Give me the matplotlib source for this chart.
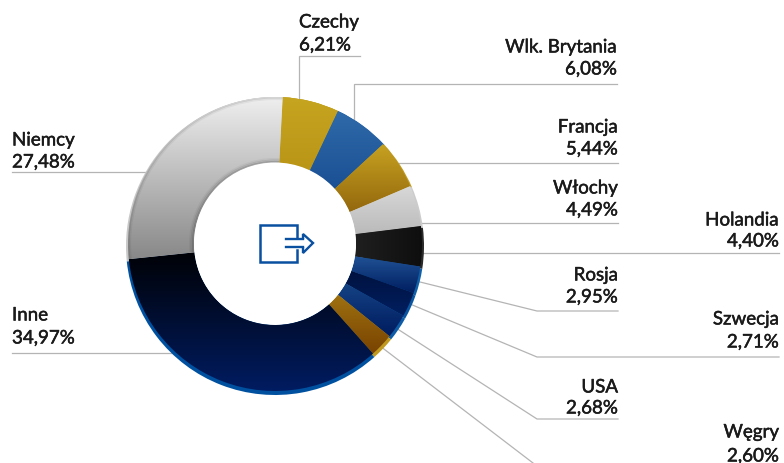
import matplotlib
matplotlib.use("Agg")
import matplotlib.pyplot as plt
import numpy as np
from matplotlib.colors import LinearSegmentedColormap
from matplotlib.patches import Polygon, Circle
import matplotlib.patheffects as pe

countries = ["Czechy", "Wlk. Brytania", "Francja", "Włochy", "Holandia", "Rosja",
             "Szwecja", "USA", "Węgry", "Inne", "Niemcy"]
shares = [6.21, 6.08, 5.44, 4.49, 4.40, 2.95, 2.71, 2.68, 2.60, 34.97, 27.48]
share_labels = ["6,21%", "6,08%", "5,44%", "4,49%", "4,40%", "2,95%",
                "2,71%", "2,68%", "2,60%", "34,97%", "27,48%"]

# gradient ends per slice, top then bottom (horizontal for Holandia)
grad_start = ["#c6a520", "#2f6aaa", "#c6a220", "#d8d8d8", "#333333", "#2a63a6",
              "#000a2c", "#24609f", "#c09a20", "#000000", "#f0f0f0"]
grad_end = ["#ae850e", "#0c3e84", "#7c4c05", "#b4b4b4", "#0e0e0e", "#001e60",
            "#001f60", "#001c60", "#784200", "#001c62", "#888888"]
rim = ["#c4a21f", "#2a66a8", "#c09a20", "#cccccc", "#2a2a2a", "#1060a8",
       "#0a55a0", "#0f5ca6", "#c09a20", "#0050a0", "#c8c8c8"]
horizontal = ["Holandia"]

# label layout in pixels: text x, align, y of name, y of value
label_pos = {
    "Czechy": (299, "left", 23, 46),
    "Wlk. Brytania": (617, "right", 48, 70),
    "Francja": (618, "right", 128, 150),
    "Włochy": (618, "right", 189, 211),
    "Holandia": (779, "right", 221, 242),
    "Rosja": (618, "right", 276, 298),
    "Szwecja": (779, "right", 320, 343),
    "USA": (618, "right", 388, 409),
    "Węgry": (779, "right", 433, 457),
    "Inne": (12, "left", 316, 339),
    "Niemcy": (12, "left", 141, 163),
}
leaders = [
    [(299, 102), (299, 57), (360, 57)],
    [(354, 122), (354, 85), (617, 85)],
    [(396, 164), (618, 164)],
    [(418, 224), (618, 224)],
    [(422, 254), (779, 254)],
    [(416, 282), (537, 312), (618, 312)],
    [(410, 305), (537, 358), (779, 358)],
    [(396, 329), (537, 420), (618, 420)],
    [(380, 347), (533, 464)],
    [(12, 354), (178, 354)],
    [(12, 173), (150, 173)],
]

fig = plt.figure(figsize=(7.84, 4.64), dpi=100)
ax = fig.add_axes([0, 0, 1, 1])

for pts in leaders:
    xs, ys = zip(*pts)
    ax.plot(xs, ys, color="#b4b4b4", lw=0.9, solid_joinstyle="miter", zorder=1)

# back copy, shifted down, gives the rim along the lower edge
ax.pie(shares, startangle=-87, counterclock=True, colors=rim, radius=149, center=(275, 247),
       frame=True, wedgeprops=dict(width=60, zorder=2))
wedges, _ = ax.pie(shares, startangle=-87, counterclock=True, colors=rim, radius=147,
                   center=(275, 245), frame=True, wedgeprops=dict(width=66, zorder=3))

ramp = np.linspace(0, 1, 256)
for w, name, c0, c1 in zip(wedges, countries, grad_start, grad_end):
    v = w.get_patch_transform().transform(w.get_path().vertices)
    x0, x1, y0, y1 = v[:, 0].min(), v[:, 0].max(), v[:, 1].min(), v[:, 1].max()
    cmap = LinearSegmentedColormap.from_list(name, [c0, c1])
    grad = ramp[None, :] if name in horizontal else ramp[:, None]
    im = ax.imshow(grad, cmap=cmap, extent=(x0, x1, y1, y0), aspect="auto", zorder=4,
                   interpolation="bilinear")
    im.set_clip_path(w)

# soft dark edge of the grey ring only
for r, a in [(82, 0.16), (83.5, 0.09), (85, 0.04), (146.5, 0.10), (145, 0.05)]:
    edge = Circle((275, 245), r, fill=False, ec="black", lw=1.5, alpha=a, zorder=5)
    ax.add_patch(edge)
    edge.set_clip_path(wedges[countries.index("Niemcy")])
ax.add_patch(Circle((275, 244.5), 81, fc="white", ec="none", zorder=6))

# thin outline thickens the light Lato strokes
thick = [pe.withStroke(linewidth=0.35, foreground="#1a1a1a")]
for name, value in zip(countries, share_labels):
    x, ha, y1, y2 = label_pos[name]
    ax.text(x, y1, name, ha=ha, va="center", fontsize=13.5, family="Lato", color="#1a1a1a",
            zorder=8, path_effects=thick)
    ax.text(x, y2, value, ha=ha, va="center", fontsize=13.5, family="Lato", color="#1a1a1a",
            zorder=8, path_effects=thick)

# icon in the middle
blue = "#0a50a0"
ax.plot([297, 297, 260, 260, 297, 297], [238, 226, 226, 263, 263, 251], color=blue, lw=1.8,
        solid_joinstyle="miter", zorder=7)
ax.plot([286, 303], [240, 240], color=blue, lw=1.7, zorder=7)
ax.plot([286, 303], [248, 248], color=blue, lw=1.7, zorder=7)
ax.add_patch(Polygon([(303, 240), (303, 235), (313, 244), (303, 254), (303, 248)], closed=False,
                     fill=False, ec=blue, lw=1.7, zorder=7))

ax.set_xlim(0, 784)
ax.set_ylim(464, 0)
ax.set_aspect("auto")
ax.axis("off")
fig.savefig("out.png", dpi=100)
